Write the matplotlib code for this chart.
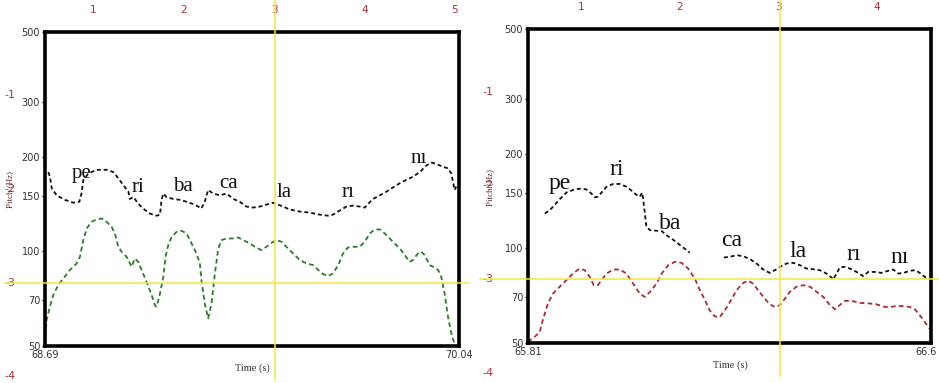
import matplotlib
matplotlib.use("Agg")
import matplotlib.pyplot as plt
import matplotlib.transforms as mtransforms
from matplotlib.lines import Line2D
from matplotlib.ticker import FixedLocator, NullLocator

# ---- data ----
# left panel: 68.69 - 70.04 s
left_range = (68.69, 70.04)
left_black_t = [68.701, 68.706, 68.712, 68.728, 68.755, 68.782, 68.802, 68.809, 68.815, 68.831,
                68.858, 68.891, 68.913, 68.929, 68.945, 68.962, 68.967, 68.978, 68.983, 68.994,
                69.010, 69.032, 69.054, 69.065, 69.070, 69.076, 69.086, 69.108, 69.130, 69.152,
                69.179, 69.200, 69.211,
                69.222, 69.238, 69.260, 69.282, 69.304, 69.325, 69.347, 69.369, 69.391, 69.412,
                69.434, 69.450, 69.467, 69.488, 69.521, 69.553, 69.586, 69.613, 69.629, 69.651,
                69.673, 69.695, 69.716, 69.733, 69.744, 69.760, 69.782, 69.803, 69.825, 69.847,
                69.868, 69.890, 69.912, 69.934, 69.950, 69.966, 69.988, 70.004, 70.015, 70.020,
                70.026, 70.031]
left_black_hz = [179, 173, 159, 151, 146, 143, 144, 153, 169, 177,
                 182, 182, 179, 171, 163, 155, 147, 149, 147, 142,
                 137, 132, 130, 131, 146, 153, 149, 147, 146, 144,
                 141, 137, 144,
                 157, 153, 151, 153, 147, 144, 139, 138, 139, 141,
                 143, 141, 139, 136, 134, 133, 131, 130, 131, 135,
                 139, 140, 139, 138, 142, 147, 151, 155, 160, 165,
                 169, 173, 179, 188, 192, 190, 186, 184, 177, 167,
                 157, 161]
left_green_t = [68.690, 68.695, 68.706, 68.717, 68.733, 68.750, 68.771, 68.793, 68.804, 68.815,
                68.826, 68.842, 68.858, 68.875, 68.891, 68.907, 68.918, 68.929, 68.940, 68.956,
                68.967, 68.972, 68.983, 68.994, 69.005, 69.021, 69.038, 69.048, 69.054, 69.065,
                69.076, 69.083, 69.092, 69.103, 69.119, 69.135, 69.152, 69.168, 69.184, 69.195,
                69.200, 69.211, 69.222, 69.233, 69.244, 69.255, 69.266, 69.282, 69.304, 69.320,
                69.336, 69.358, 69.374, 69.396, 69.412, 69.429, 69.445, 69.461, 69.477, 69.499,
                69.521, 69.543, 69.564, 69.581, 69.597, 69.613, 69.629, 69.646, 69.662, 69.678,
                69.695, 69.716, 69.733, 69.749, 69.765, 69.782, 69.798, 69.814, 69.830, 69.847,
                69.863, 69.879, 69.890, 69.906, 69.917, 69.928, 69.944, 69.955, 69.972, 69.982,
                69.993, 70.004, 70.015, 70.023, 70.029]
left_green_hz = [50.4, 60.5, 66.7, 72.6, 78.2, 82.1, 87.3, 91.6, 96.2, 108.7,
                 118.4, 124.3, 126.5, 127.4, 124.3, 119.8, 114.1, 103.5, 99.8, 96.2,
                 91.6, 89.4, 95.0, 92.7, 87.3, 80.1, 72.6, 67.5, 66.7, 73.5,
                 83.1, 96.2, 104.8, 111.4, 115.5, 116.4, 114.1, 106.1, 98.6, 91.6,
                 81.1, 68.3, 61.2, 68.3, 85.1, 102.3, 108.7, 110.0, 110.0, 110.8,
                 108.7, 106.1, 103.5, 101.0, 103.5, 106.6, 108.7, 107.4, 103.5, 98.6,
                 93.9, 91.6, 90.5, 87.3, 84.7, 83.5, 85.1, 90.5, 98.6, 103.0,
                 103.5, 103.5, 107.4, 114.1, 117.5, 117.5, 114.1, 110.0, 106.1, 102.3,
                 97.4, 92.7, 93.9, 98.6, 99.8, 97.4, 90.5, 89.4, 87.3, 83.1,
                 73.5, 62.0, 54.9, 51.6, 50.4]
left_syll = ["pe", "ri", "ba", "ca", "la", "rı", "nı"]
left_syll_t = [68.809, 68.994, 69.139, 69.290, 69.469, 69.678, 69.910]
left_syll_hz = [171, 155, 156, 159, 149, 149, 192]

# right panel: 65.81 - 66.6 s
right_range = (65.81, 66.6)
right_black1_t = [65.843, 65.853, 65.862, 65.872, 65.885, 65.898, 65.911, 65.924, 65.934, 65.941,
                  65.947, 65.954, 65.964, 65.977, 65.990, 66.003, 66.013, 66.023, 66.029, 66.034,
                  66.036, 66.039, 66.042, 66.049, 66.062, 66.072, 66.081, 66.094, 66.108, 66.121,
                  66.127]
right_black1_hz = [129.3, 132.5, 137.5, 143.4, 150.6, 153.5, 155.0, 154.3, 149.8, 145.5,
                   146.2, 150.6, 157.3, 160.5, 160.5, 157.3, 152.8, 148.0, 146.2, 150.6,
                   142.7, 129.3, 117.3, 114.4, 113.9, 113.6, 110.3, 106.8, 102.5, 98.8,
                   96.9]
right_black2_t = [66.194, 66.206, 66.219, 66.232, 66.245, 66.258, 66.271, 66.284, 66.294, 66.304,
                  66.317, 66.330, 66.343, 66.356, 66.369, 66.382, 66.395, 66.405, 66.408, 66.415,
                  66.421, 66.431, 66.441, 66.454, 66.467, 66.477, 66.490, 66.503, 66.516, 66.526,
                  66.536, 66.546, 66.559, 66.569, 66.578, 66.588, 66.595]
right_black2_hz = [93.6, 94.1, 95.2, 94.5, 92.5, 89.6, 85.7, 83.6, 85.3, 87.4,
                   89.6, 90.0, 88.5, 86.3, 85.9, 85.3, 83.2, 80.8, 79.6, 83.2,
                   87.0, 87.4, 86.3, 84.2, 81.6, 84.2, 84.2, 83.6, 84.9, 85.7,
                   83.2, 83.6, 84.9, 85.3, 83.6, 81.2, 79.6]
right_red_t = [65.810, 65.823, 65.833, 65.839, 65.849, 65.859, 65.872, 65.885, 65.898, 65.911,
               65.921, 65.931, 65.939, 65.947, 65.954, 65.964, 65.977, 65.990, 66.003, 66.016,
               66.029, 66.039, 66.049, 66.062, 66.072, 66.085, 66.098, 66.111, 66.124, 66.137,
               66.147, 66.157, 66.166, 66.176, 66.186, 66.196, 66.206, 66.219, 66.232, 66.242,
               66.251, 66.261, 66.274, 66.284, 66.294, 66.304, 66.314, 66.323, 66.336, 66.350,
               66.363, 66.376, 66.389, 66.402, 66.412, 66.421, 66.431, 66.444, 66.461, 66.480,
               66.493, 66.510, 66.520, 66.533, 66.546, 66.559, 66.569, 66.578, 66.588, 66.597]
right_red_hz = [50.4, 52.3, 54.2, 59.1, 66.8, 71.8, 75.5, 79.2, 83.2, 86.3,
                85.3, 81.2, 76.4, 76.4, 79.2, 83.2, 85.7, 85.7, 83.2, 77.3,
                71.8, 70.1, 72.7, 77.3, 83.2, 88.5, 90.7, 90.0, 86.3, 80.2,
                73.7, 68.4, 63.6, 60.8, 60.5, 63.6, 67.6, 73.7, 77.7, 78.9,
                77.3, 73.7, 69.3, 66.4, 65.1, 66.0, 69.3, 72.7, 75.5, 76.4,
                75.5, 72.7, 70.1, 66.0, 64.0, 66.0, 68.1, 68.1, 67.1, 66.8,
                66.4, 65.1, 65.1, 65.6, 65.5, 65.1, 63.9, 61.3, 58.3, 55.6]
right_syll = ["pe", "ri", "ba", "ca", "la", "rı", "nı"]
right_syll_t = [65.873, 65.983, 66.088, 66.210, 66.340, 66.448, 66.538]
right_syll_hz = [155, 171, 115, 102, 94, 92, 90]

y_ticks = [50, 70, 100, 150, 200, 300, 500]
ruler_top = ["1", "2", "3", "4", "5"]
ruler_left = ["-1", "-2", "-3", "-4"]

W, H = 939, 383
fig = plt.figure(figsize=(W / 100, H / 100), dpi=100)
fig.patch.set_facecolor("white")

YELLOW = "#f2e640"
RULER = "#b03040"
SERIF = ["Liberation Serif", "DejaVu Serif"]


def fx(px):
    return px / W


def fy(py):
    return 1 - py / H


def pitch_axes(box, xr, syl, syl_t, syl_hz, fs):
    l, t, r, b = box
    ax = fig.add_axes([fx(l), fy(b), fx(r) - fx(l), fy(t) - fy(b)])
    ax.set_yscale("log")
    ax.set_ylim(50, 500)
    ax.set_xlim(*xr)
    ax.yaxis.set_major_locator(FixedLocator(y_ticks))
    ax.yaxis.set_minor_locator(NullLocator())
    ax.set_yticklabels([str(v) for v in y_ticks])
    ax.set_xticks(list(xr))
    ax.set_xticklabels([f"{xr[0]:g}", f"{xr[1]:g}"])
    ax.tick_params(axis="y", length=2.5, width=1, pad=1, labelsize=7, labelcolor="#333333")
    ax.tick_params(axis="x", length=0, pad=3, labelsize=7, labelcolor="#333333")
    for s in ax.spines.values():
        s.set_linewidth(2.6)
        s.set_color("black")
    for s, tx, th in zip(syl, syl_t, syl_hz):
        ax.text(tx, th, s, ha="center", va="baseline", fontsize=fs,
                family=SERIF, color="#111111")
    return ax


# left panel
axL = pitch_axes((45, 32, 459, 346), left_range, left_syll, left_syll_t, left_syll_hz, 15)
axL.plot(left_black_t, left_black_hz, color="#111111", lw=1.3, ls=(0, (2.2, 1.6)))
axL.plot(left_green_t, left_green_hz, color="#2a7d2a", lw=1.3, ls=(0, (2.6, 1.8)))

# right panel
axR = pitch_axes((528, 29, 931, 343), right_range, right_syll, right_syll_t, right_syll_hz, 17)
axR.plot(right_black1_t, right_black1_hz, color="#111111", lw=1.3, ls=(0, (2.2, 1.6)))
axR.plot(right_black2_t, right_black2_hz, color="#111111", lw=1.3, ls=(0, (2.2, 1.6)))
axR.plot(right_red_t, right_red_hz, color="#a82e32", lw=1.3, ls=(0, (2.6, 1.8)))

# keep the last time label of the right panel inside the figure
last = axR.get_xticklabels()[-1]
last.set_horizontalalignment("right")
last.set_transform(last.get_transform() + mtransforms.ScaledTranslation(6 / 100, 0, fig.dpi_scale_trans))

# axis titles
fig.text(fx(252), fy(368), "Time (s)", ha="center", va="center", fontsize=7.5, family=SERIF, color="#333333")
fig.text(fx(730), fy(365), "Time (s)", ha="center", va="center", fontsize=7.5, family=SERIF, color="#333333")

# screen-ruler overlay (red numbers + yellow crosshair)
for i, lab in enumerate(ruler_top):
    fig.text(fx(93 + i * 90.5), fy(10), lab, ha="center", va="center", fontsize=7.5, color=RULER)
for i, lab in enumerate(ruler_top[:4]):
    fig.text(fx(581 + i * 98.7), fy(7), lab, ha="center", va="center", fontsize=7.5, color=RULER)
for i, lab in enumerate(ruler_left):
    y = 95 + i * 94 if i < 3 else 376
    fig.text(fx(10), fy(y), lab, ha="center", va="center", fontsize=8, color=RULER)
    fig.text(fx(488), fy(92 + i * 93.5), lab, ha="center", va="center", fontsize=8, color=RULER)

fig.text(fx(10), fy(190), "Pitch (Hz)", rotation=90, ha="center", va="center", fontsize=6.5,
         family=SERIF, color="#5a2a2a")
fig.text(fx(490), fy(187), "Pitch (Hz)", rotation=90, ha="center", va="center", fontsize=6.5,
         family=SERIF, color="#5a2a2a")

fig.add_artist(Line2D([fx(275), fx(275)], [fy(0), fy(380)], color=YELLOW, lw=1.1, zorder=5))
fig.add_artist(Line2D([fx(5), fx(469)], [fy(283), fy(283)], color=YELLOW, lw=1.1, zorder=5))
fig.add_artist(Line2D([fx(780), fx(780)], [fy(0), fy(376)], color=YELLOW, lw=1.1, zorder=5))
fig.add_artist(Line2D([fx(480), fx(939)], [fy(279), fy(279)], color=YELLOW, lw=1.1, zorder=5))

fig.savefig("out.png", dpi=100)
